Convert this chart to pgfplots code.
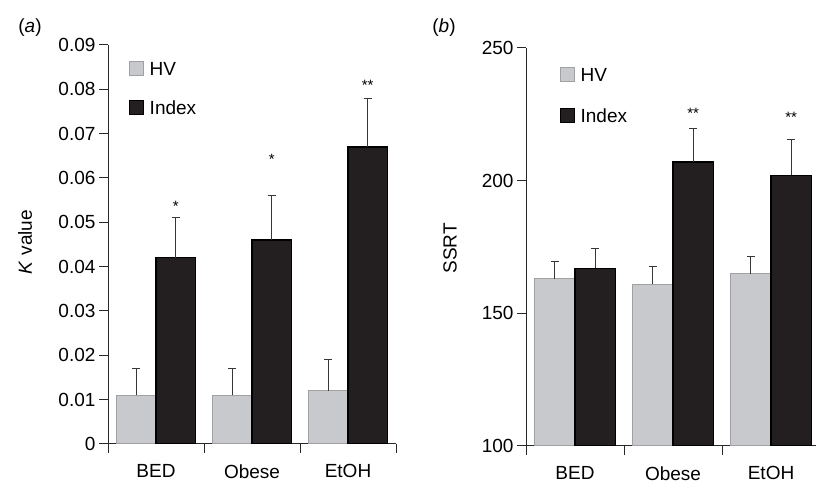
\documentclass[border=0pt]{standalone}
\usepackage{fontspec}
\setmainfont{Liberation Sans}
\usepackage{pgfplots}
\pgfplotsset{compat=1.18}
\definecolor{hvfill}{RGB}{200,201,204}
\definecolor{hvedge}{RGB}{160,161,163}
\definecolor{idxfill}{RGB}{35,31,32}
\definecolor{errc}{RGB}{55,55,55}
\definecolor{axc}{RGB}{40,40,40}
\newcommand{\bigf}{\fontsize{19}{22}\selectfont}
\tikzset{mystar/.style={font=\fontsize{15}{15}\selectfont, inner sep=0pt}}
\pgfplotsset{
  common/.style={
    scale only axis, anchor=south west,
    ybar,
    bar width=0.41,
    axis x line*=bottom, axis y line*=left,
    axis line style={line width=1pt, axc},
    every tick/.style={line width=1pt, axc},
    tick align=outside,
    major tick length=9pt,
    scaled y ticks=false,
    xtick={-0.5,0.5,1.5,2.5}, xticklabels={},
    extra x ticks={0,1,2},
    extra x tick labels={BED,Obese,EtOH},
    extra x tick style={major tick length=0pt, xticklabel style={yshift=-17pt}},
    tick label style={font=\bigf},
    label style={font=\bigf},
    /pgf/number format/assume math mode=true,
    legend style={draw=none, fill=none, anchor=north west, inner sep=0pt,
      font=\bigf, row sep=24pt,
      nodes={inner sep=0pt, text height=14pt, text depth=0pt, anchor=west}},
    legend cell align=left,
    legend image code/.code={\draw[##1, line width=1pt] (0pt,-7pt) rectangle (14pt,7pt);
      \path[draw=none, fill=none] (0pt,0pt) rectangle (20pt,0pt);},
  },
  hv/.style={fill=hvfill, draw=hvedge, line width=1.2pt, bar shift=-0.205,
    error bars/.cd, y dir=plus, y explicit,
    error bar style={errc, line width=1.1pt},
    error mark options={errc, line width=1.1pt, mark size=4pt, rotate=90}},
  idx/.style={fill=idxfill, draw=black, line width=1.2pt, bar shift=0.205,
    error bars/.cd, y dir=plus, y explicit,
    error bar style={errc, line width=1.1pt},
    error mark options={errc, line width=1.1pt, mark size=4pt, rotate=90}},
}
\begin{document}
\begin{tikzpicture}
\useasboundingbox (0,0) rectangle (816pt,484pt);
\node[font=\bigf] at (30pt,456pt) {(\textit{a})};
\node[font=\bigf] at (444pt,456pt) {(\textit{b})};
\begin{axis}[common,
  at={(108pt,40pt)}, width=288pt, height=399pt,
  xmin=-0.5, xmax=2.5, ymin=0, ymax=0.09,
  ytick={0,0.01,0.02,0.03,0.04,0.05,0.06,0.07,0.08,0.09},
  yticklabels={0,0.01,0.02,0.03,0.04,0.05,0.06,0.07,0.08,0.09},
  ylabel={\textit{K} value},
  every axis y label/.style={at={(axis description cs:-0.288,0.506)}, rotate=90, anchor=center, font=\bigf},
  legend style={at={(axis description cs:0.073,0.96)}},
]
\addplot[hv] coordinates {(0,0.011) +- (0,0.006) (1,0.011) +- (0,0.006) (2,0.012) +- (0,0.007)};
\addplot[idx] coordinates {(0,0.042) +- (0,0.009) (1,0.046) +- (0,0.010) (2,0.067) +- (0,0.011)};
\legend{HV,Index}
\node[mystar] at (axis cs:0.205,0.0535) {*};
\node[mystar] at (axis cs:1.205,0.0643) {*};
\node[mystar] at (axis cs:2.205,0.081) {**};
\end{axis}
\begin{axis}[common,
  at={(526pt,38pt)}, width=290pt, height=398pt,
  xmin=-0.5, xmax=2.459, ymin=100, ymax=250,
  ytick={100,150,200,250},
  yticklabels={100,150,200,250},
  ylabel={SSRT},
  every axis y label/.style={at={(axis description cs:-0.262,0.497)}, rotate=90, anchor=center, font=\bigf},
  legend style={at={(axis description cs:0.117,0.952)}, row sep=26pt},
]
\addplot[hv] coordinates {(0,163) +- (0,6.5) (1,161) +- (0,6.5) (2,165) +- (0,6.5)};
\addplot[idx] coordinates {(0,167) +- (0,7.5) (1,207) +- (0,12.5) (2,202) +- (0,13.5)};
\legend{HV,Index}
\node[mystar] at (axis cs:1.205,225.5) {**};
\node[mystar] at (axis cs:2.205,224) {**};
\end{axis}
\end{tikzpicture}
\end{document}
